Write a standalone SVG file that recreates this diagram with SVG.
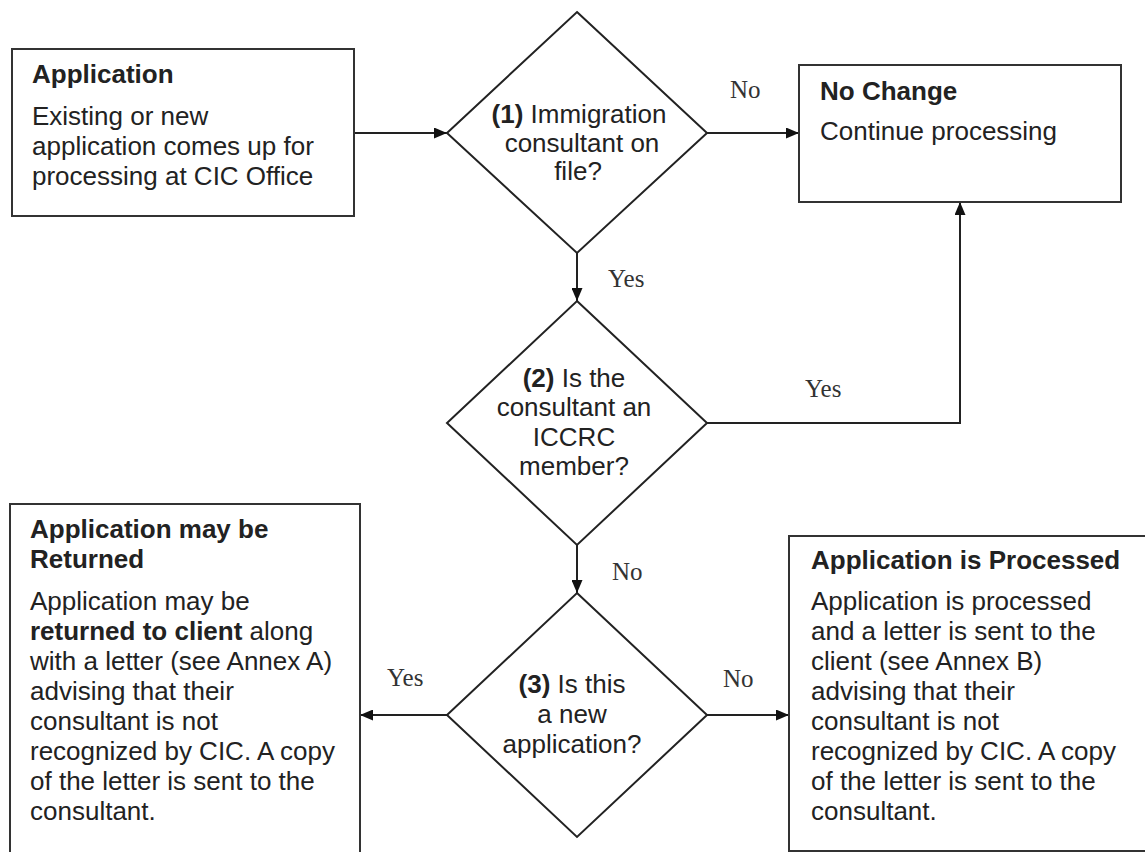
<svg xmlns="http://www.w3.org/2000/svg" width="1145" height="852" viewBox="0 0 1145 852">
<style>
.box{fill:#fff;stroke:#333;stroke-width:2}
.dia{fill:#fff;stroke:#222;stroke-width:2}
.t{font-family:"Liberation Sans",Arial,sans-serif;font-size:26px;fill:#222}
.b{font-weight:bold}
.c{text-anchor:middle}
.lbl{font-family:"Liberation Serif","Times New Roman",serif;font-size:25px;fill:#333}
.con{fill:none;stroke:#222;stroke-width:2}
</style>
<defs>
<marker id="arr" viewBox="0 0 13 11" refX="13" refY="5.5" markerWidth="13" markerHeight="11" markerUnits="userSpaceOnUse" orient="auto">
<path d="M0,0 L13,5.5 L0,11 Z" fill="#111"/>
</marker>
</defs>
<rect width="1145" height="852" fill="#fff"/>
<g id="connectors">
<line class="con" x1="354" y1="133" x2="447" y2="133" marker-end="url(#arr)"/>
<line class="con" x1="707" y1="133" x2="799" y2="133" marker-end="url(#arr)"/>
<line class="con" x1="577" y1="253" x2="577" y2="301" marker-end="url(#arr)"/>
<polyline class="con" points="707,423 960,423 960,202" marker-end="url(#arr)"/>
<line class="con" x1="577" y1="545" x2="577" y2="593" marker-end="url(#arr)"/>
<line class="con" x1="447" y1="715" x2="360" y2="715" marker-end="url(#arr)"/>
<line class="con" x1="707" y1="715" x2="789" y2="715" marker-end="url(#arr)"/>
<text class="lbl" x="730" y="98">No</text>
<text class="lbl" x="608" y="287">Yes</text>
<text class="lbl" x="805" y="397">Yes</text>
<text class="lbl" x="612" y="580">No</text>
<text class="lbl" x="387" y="686">Yes</text>
<text class="lbl" x="723" y="687">No</text>
</g>
<g id="application">
<rect class="box" x="12" y="49" width="342" height="167"/>
<text class="t b" x="32" y="83">Application</text>
<text class="t" x="32" y="125">Existing or new</text>
<text class="t" x="32" y="155">application comes up for</text>
<text class="t" x="32" y="185">processing at CIC Office</text>
</g>
<g id="decision1">
<polygon class="dia" points="577,12 707,133 577,253 447,133"/>
<text class="t c" x="579" y="123"><tspan class="b">(1)</tspan> Immigration</text>
<text class="t c" x="582" y="152">consultant on</text>
<text class="t c" x="578" y="180">file?</text>
</g>
<g id="nochange">
<rect class="box" x="799" y="65" width="322" height="137"/>
<text class="t b" x="820" y="100">No Change</text>
<text class="t" x="820" y="140">Continue processing</text>
</g>
<g id="decision2">
<polygon class="dia" points="577,301 707,423 577,545 447,423"/>
<text class="t c" x="574" y="387"><tspan class="b">(2)</tspan> Is the</text>
<text class="t c" x="574" y="416">consultant an</text>
<text class="t c" x="574" y="446">ICCRC</text>
<text class="t c" x="574" y="475">member?</text>
</g>
<g id="decision3">
<polygon class="dia" points="577,593 707,715 577,837 447,715"/>
<text class="t c" x="572" y="693"><tspan class="b">(3)</tspan> Is this</text>
<text class="t c" x="572" y="723">a new</text>
<text class="t c" x="572" y="753">application?</text>
</g>
<g id="returned">
<rect class="box" x="10" y="504" width="350" height="360"/>
<text class="t b" x="30" y="538">Application may be</text>
<text class="t b" x="30" y="568">Returned</text>
<text class="t" x="30" y="610">Application may be</text>
<text class="t" x="30" y="640"><tspan class="b">returned to client</tspan> along</text>
<text class="t" x="30" y="670">with a letter (see Annex A)</text>
<text class="t" x="30" y="700">advising that their</text>
<text class="t" x="30" y="730">consultant is not</text>
<text class="t" x="30" y="760">recognized by CIC. A copy</text>
<text class="t" x="30" y="790">of the letter is sent to the</text>
<text class="t" x="30" y="820">consultant.</text>
</g>
<g id="processed">
<rect class="box" x="789" y="536" width="370" height="315"/>
<text class="t b" x="811" y="569">Application is Processed</text>
<text class="t" x="811" y="610">Application is processed</text>
<text class="t" x="811" y="640">and a letter is sent to the</text>
<text class="t" x="811" y="670">client (see Annex B)</text>
<text class="t" x="811" y="700">advising that their</text>
<text class="t" x="811" y="730">consultant is not</text>
<text class="t" x="811" y="760">recognized by CIC. A copy</text>
<text class="t" x="811" y="790">of the letter is sent to the</text>
<text class="t" x="811" y="820">consultant.</text>
</g>
</svg>
